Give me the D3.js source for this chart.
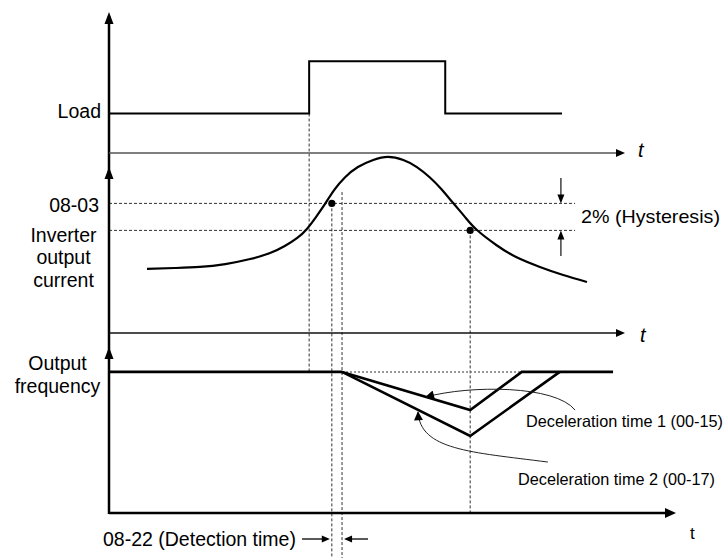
<!DOCTYPE html>
<html>
<head>
<meta charset="utf-8">
<script src="https://cdn.jsdelivr.net/npm/d3@7"></script>
<style>
  html, body { margin: 0; padding: 0; background: #fff; }
  svg { display: block; font-family: "Liberation Sans", Arial, sans-serif; }
</style>
</head>
<body>
<svg id="chart" width="726" height="558"></svg>
<script>
// ---------- data (time in abstract seconds) ----------
const loadTimes  = [0, 3.53, 3.53, 5.93, 5.93, 7.99];
const loadValues = [0.28, 0.28, 0.65, 0.65, 0.28, 0.28];

const currentTimes  = [0.67, 1.16, 1.60, 2.05, 2.49, 2.84, 3.10, 3.32, 3.49, 3.65, 3.81, 3.97, 4.16, 4.39, 4.66, 4.92,
                       5.19, 5.43, 5.66, 5.86, 6.07, 6.28, 6.49, 6.83, 7.18, 7.60, 8.01, 8.43];
const currentValues = [35.6, 36.1, 36.7, 38.3, 41.1, 44.4, 48.3, 52.8, 57.8, 64.4, 71.7, 79.4, 86.4, 92.2, 96.1, 97.8,
                       96.1, 92.2, 86.4, 80.0, 72.2, 64.4, 57.2, 48.9, 42.2, 36.7, 32.2, 28.3];

const thresholdLevel = 72;   // 08-03
const releaseLevel   = 57;   // 08-03 - 2%
const event1 = 3.53, dot1Time = 3.93, detectTime = 4.11, dot2Time = 6.37;

const freqHoldTimes  = [0, 4.11];
const freqHoldValues = [85, 85];
const decel1Times  = [4.11, 6.37, 7.28, 8.89];
const decel1Values = [85, 62, 85, 85];
const decel2Times  = [4.11, 6.37, 7.95];
const decel2Values = [85, 46.4, 85];

const labelsLeft = ["Load", "08-03", "Inverter", "output", "current", "Output", "frequency"];

// ---------- scales ----------
const svg = d3.select("#chart");
const x = d3.scaleLinear().domain([0, 10]).range([109, 676]);
const yLoad = d3.scaleLinear().domain([0, 1]).range([153, 12]);
const yCur  = d3.scaleLinear().domain([0, 100]).range([333, 153]);
const yFreq = d3.scaleLinear().domain([0, 100]).range([513, 347]);

const axisX = x(0);
const tEndSmall = 9.1;

// ---------- dashed guide lines ----------
const dashed = svg.append("g").attr("stroke", "#333").attr("stroke-width", 1).attr("stroke-dasharray", "3,2").attr("fill", "none");
[thresholdLevel, releaseLevel].forEach(v => {
  dashed.append("line").attr("x1", axisX).attr("x2", x(8.22)).attr("y1", yCur(v)).attr("y2", yCur(v));
});
dashed.append("line").attr("x1", x(event1)).attr("x2", x(event1)).attr("y1", yLoad(loadValues[0])).attr("y2", yFreq(85));
dashed.append("line").attr("x1", x(dot1Time)).attr("x2", x(dot1Time)).attr("y1", yCur(thresholdLevel)).attr("y2", 558);
dashed.append("line").attr("x1", x(detectTime)).attr("x2", x(detectTime)).attr("y1", yCur(78.3)).attr("y2", 558);
dashed.append("line").attr("x1", x(dot2Time)).attr("x2", x(dot2Time)).attr("y1", yCur(releaseLevel)).attr("y2", yFreq(0));
svg.append("line").attr("x1", x(detectTime)).attr("x2", x(7.28)).attr("y1", yFreq(85)).attr("y2", yFreq(85))
  .attr("stroke", "#777").attr("stroke-width", 1.5).attr("stroke-dasharray", "2,2");

// ---------- axes ----------
const ax = svg.append("g");
ax.append("line").attr("x1", axisX).attr("x2", axisX).attr("y1", yLoad(1) + 4).attr("y2", yFreq(0) + 1)
  .attr("stroke", "#000").attr("stroke-width", 2.5);
function upArrow(yTip, w, l) {
  ax.append("path").attr("d", `M${axisX},${yTip} L${axisX - w},${yTip + l} L${axisX + w},${yTip + l} Z`).attr("fill", "#000");
}
upArrow(yLoad(1), 4.5, 12);
upArrow(167, 4.5, 12);
upArrow(347, 4.5, 12);
function hAxis(y, tEnd, sw, color, w, l) {
  ax.append("line").attr("x1", axisX).attr("x2", x(tEnd) - l + 1).attr("y1", y).attr("y2", y)
    .attr("stroke", color).attr("stroke-width", sw);
  ax.append("path").attr("d", `M${x(tEnd)},${y} L${x(tEnd) - l},${y - w} L${x(tEnd) - l},${y + w} Z`).attr("fill", "#000");
}
hAxis(yLoad(0), tEndSmall, 1.3, "#555", 4, 9);
hAxis(yCur(0), tEndSmall, 1.3, "#111", 4, 9);
hAxis(yFreq(0), 10, 2.5, "#000", 5, 11);

svg.append("text").attr("x", x(tEndSmall) + 13).attr("y", yLoad(0) + 4).text("t")
  .attr("font-size", 20).attr("font-style", "italic");
svg.append("text").attr("x", x(tEndSmall) + 15).attr("y", yCur(0) + 9).text("t")
  .attr("font-size", 20).attr("font-style", "italic");
svg.append("text").attr("x", x(10) + 14).attr("y", yFreq(0) + 26).text("t")
  .attr("font-size", 17);

// ---------- load ----------
svg.append("path")
  .datum(loadTimes.map((t, i) => [t, loadValues[i]]))
  .attr("d", d3.line().x(d => x(d[0])).y(d => yLoad(d[1])))
  .attr("fill", "none").attr("stroke", "#000").attr("stroke-width", 2);

// ---------- current ----------
svg.append("path")
  .datum(currentTimes.map((t, i) => [t, currentValues[i]]))
  .attr("d", d3.line().x(d => x(d[0])).y(d => yCur(d[1])).curve(d3.curveNatural))
  .attr("fill", "none").attr("stroke", "#000").attr("stroke-width", 2.2);

svg.append("circle").attr("cx", x(dot1Time)).attr("cy", yCur(thresholdLevel)).attr("r", 3.6).attr("fill", "#000");
svg.append("circle").attr("cx", x(dot2Time)).attr("cy", yCur(releaseLevel)).attr("r", 3.6).attr("fill", "#000");

function vArrow(t, yFrom, yTip) {
  const dir = yTip > yFrom ? 1 : -1;
  svg.append("line").attr("x1", x(t)).attr("x2", x(t)).attr("y1", yFrom).attr("y2", yTip - dir * 8)
    .attr("stroke", "#333").attr("stroke-width", 1.4);
  svg.append("path").attr("d", `M${x(t)},${yTip} L${x(t) - 3.5},${yTip - dir * 9} L${x(t) + 3.5},${yTip - dir * 9} Z`).attr("fill", "#000");
}
vArrow(7.97, yCur(86.1), yCur(thresholdLevel));
vArrow(7.97, yCur(42.8), yCur(releaseLevel));

// ---------- output frequency ----------
const fLine = d3.line().x(d => x(d[0])).y(d => yFreq(d[1]));
svg.append("path").datum(freqHoldTimes.map((t, i) => [t, freqHoldValues[i]])).attr("d", fLine)
  .attr("fill", "none").attr("stroke", "#000").attr("stroke-width", 2.6);
svg.append("path").datum(decel1Times.map((t, i) => [t, decel1Values[i]])).attr("d", fLine)
  .attr("fill", "none").attr("stroke", "#000").attr("stroke-width", 2.6).attr("stroke-linejoin", "miter");
svg.append("path").datum(decel2Times.map((t, i) => [t, decel2Values[i]])).attr("d", fLine)
  .attr("fill", "none").attr("stroke", "#000").attr("stroke-width", 2.6).attr("stroke-linejoin", "miter");

svg.append("defs").append("marker").attr("id", "ah").attr("viewBox", "0 0 10 10")
  .attr("refX", 9).attr("refY", 5).attr("markerWidth", 11).attr("markerHeight", 9)
  .attr("markerUnits", "userSpaceOnUse").attr("orient", "auto")
  .append("path").attr("d", "M0,0 L10,5 L0,10 Z").attr("fill", "#000");
function curveArrow(pts) {
  const p = pts.map(d => [x(d[0]), yFreq(d[1])]);
  svg.append("path").attr("d", `M${p[0]} C${p[1]} ${p[2]} ${p[3]}`)
    .attr("fill", "none").attr("stroke", "#222").attr("stroke-width", 1).attr("marker-end", "url(#ah)");
}
curveArrow([[8.22, 62.0], [7.87, 77.1], [6.37, 77.1], [5.59, 69.9]]);
curveArrow([[7.74, 30.7], [6.37, 36.7], [5.49, 38.0], [5.45, 60.8]]);

svg.append("text").attr("x", 526).attr("y", 427).attr("font-size", 16.5)
  .attr("textLength", 197).attr("lengthAdjust", "spacingAndGlyphs").text("Deceleration time 1 (00-15)");
svg.append("text").attr("x", 518).attr("y", 485).attr("font-size", 16.5)
  .attr("textLength", 197).attr("lengthAdjust", "spacingAndGlyphs").text("Deceleration time 2 (00-17)");

const yDet = 539;
svg.append("line").attr("x1", 302).attr("x2", x(dot1Time) - 6).attr("y1", yDet).attr("y2", yDet).attr("stroke", "#000").attr("stroke-width", 1.3);
svg.append("path").attr("d", `M${x(dot1Time) - 2},${yDet} L${x(dot1Time) - 10},${yDet - 3.5} L${x(dot1Time) - 10},${yDet + 3.5} Z`).attr("fill", "#000");
svg.append("line").attr("x1", x(detectTime) + 6).attr("x2", 368).attr("y1", yDet).attr("y2", yDet).attr("stroke", "#000").attr("stroke-width", 1.3);
svg.append("path").attr("d", `M${x(detectTime) + 2},${yDet} L${x(detectTime) + 10},${yDet - 3.5} L${x(detectTime) + 10},${yDet + 3.5} Z`).attr("fill", "#000");
svg.append("text").attr("x", 103).attr("y", 546).attr("font-size", 19.5).text("08-22 (Detection time)");

// ---------- left labels ----------
const lab = svg.append("g").attr("font-size", 19.5).attr("fill", "#000");
lab.append("text").attr("x", 101).attr("y", 118).attr("text-anchor", "end").text(labelsLeft[0]);
lab.append("text").attr("x", 99).attr("y", 212).attr("text-anchor", "end").text(labelsLeft[1]);
lab.append("text").attr("x", 63.5).attr("y", 242).attr("text-anchor", "middle").text(labelsLeft[2]);
lab.append("text").attr("x", 63.5).attr("y", 264).attr("text-anchor", "middle").text(labelsLeft[3]);
lab.append("text").attr("x", 63.5).attr("y", 287).attr("text-anchor", "middle").text(labelsLeft[4]);
lab.append("text").attr("x", 57.5).attr("y", 370).attr("text-anchor", "middle").text(labelsLeft[5]);
lab.append("text").attr("x", 57.5).attr("y", 393).attr("text-anchor", "middle").text(labelsLeft[6]);
svg.append("text").attr("x", 581).attr("y", 223).attr("font-size", 19)
  .attr("textLength", 139).attr("lengthAdjust", "spacingAndGlyphs").text("2% (Hysteresis)");
</script>
</body>
</html>
